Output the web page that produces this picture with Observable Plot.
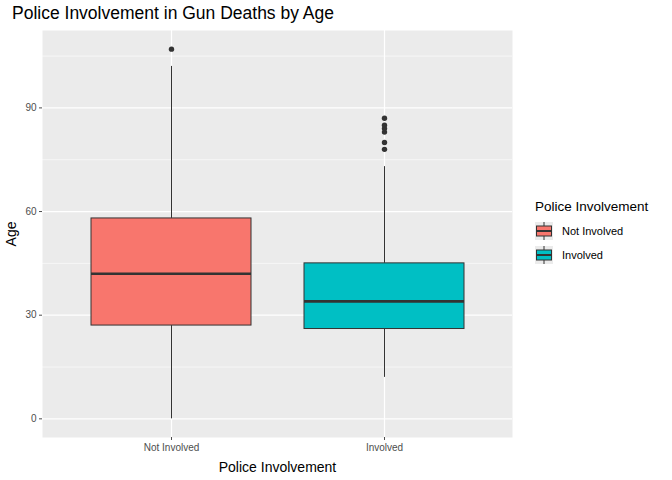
<!DOCTYPE html>
<html><head><meta charset="utf-8">
<script src="https://cdn.jsdelivr.net/npm/d3@7"></script>
<script src="https://cdn.jsdelivr.net/npm/@observablehq/plot@0.6"></script>
<style>
body{margin:0;background:#fff;font-family:"Liberation Sans",Arial,sans-serif;}
#wrap{position:relative;width:672px;height:480px;}
#title{position:absolute;left:12px;top:3px;font-size:17.5px;color:#000;}
#chart{position:absolute;left:0;top:28px;}
#legend{position:absolute;left:535px;top:199px;font-size:13.5px;color:#000;}
.key{display:flex;align-items:center;height:24px;font-size:11px;}
.key svg{margin-right:9px;}
</style></head><body>
<div id="wrap">
<div id="title">Police Involvement in Gun Deaths by Age</div>
<div id="chart"></div>
<div id="legend"><div style="margin-bottom:5px">Police Involvement</div></div>
</div>
<script>
const groups = ["Not Involved", "Involved"]
const colors = ["#F8766D", "#00BFC4"]
const lows = [0, 12]
const q1s = [27, 26]
const medians = [42, 34]
const q3s = [58, 45]
const highs = [102, 73]
const outliers = [
  {group: "Not Involved", age: 107},
  ...[78, 80, 83, 84, 85, 87].map(a => ({group: "Involved", age: a}))
]
const majorTicks = [0, 30, 60, 90]
const minorTicks = [15, 45, 75, 105]

const boxes = groups.map((g, i) => ({group: g, color: colors[i], low: lows[i], q1: q1s[i], med: medians[i], q3: q3s[i], high: highs[i]}))

const chart = Plot.plot({
  width: 514, height: 452,
  marginLeft: 42, marginRight: 2, marginTop: 2, marginBottom: 43,
  style: {fontFamily: "Liberation Sans, Arial, sans-serif", background: "white"},
  x: {type: "band", domain: groups, paddingInner: 0.25, paddingOuter: 0.225, label: null},
  y: {domain: [-5.4, 112.4], label: null},
  color: {type: "identity"},
  marks: [
    Plot.frame({fill: "#ebebeb", stroke: null}),
    Plot.ruleY(minorTicks, {stroke: "white", strokeWidth: 0.6}),
    Plot.ruleY(majorTicks, {stroke: "white", strokeWidth: 1.2}),
    Plot.ruleX(groups, {x: d => d, stroke: "white", strokeWidth: 1.2}),
    Plot.ruleX(boxes, {x: "group", y1: "low", y2: "q1", stroke: "#333", strokeWidth: 1}),
    Plot.ruleX(boxes, {x: "group", y1: "q3", y2: "high", stroke: "#333", strokeWidth: 1}),
    Plot.barY(boxes, {x: "group", y1: "q1", y2: "q3", fill: "color", stroke: "#333", strokeWidth: 1}),
    Plot.tickY(boxes, {x: "group", y: "med", stroke: "#333", strokeWidth: 2.6}),
    Plot.dot(outliers, {x: "group", y: "age", r: 2.7, fill: "#333", stroke: null}),
    Plot.axisY({ticks: majorTicks, tickSize: 3, tickPadding: 3, fontSize: 10, color: "#4d4d4d", label: "Age", labelAnchor: "center", labelArrow: "none", labelOffset: 36}),
    Plot.axisX({tickSize: 3, tickPadding: 3, fontSize: 10, color: "#4d4d4d", label: "Police Involvement", labelAnchor: "center", labelArrow: "none", labelOffset: 34})
  ]
})
d3.select(chart).selectAll("g[aria-label='y-axis label'] text, g[aria-label='x-axis label'] text").style("font-size", "14px").style("fill", "#000")
d3.select("#chart").append(() => chart)

boxes.forEach(b => {
  const k = d3.select("#legend").append("div").attr("class", "key")
  const s = k.append("svg").attr("width", 18).attr("height", 18)
  s.append("rect").attr("width", 18).attr("height", 18).attr("fill", "#ebebeb")
  s.append("line").attr("x1", 9).attr("x2", 9).attr("y1", 0).attr("y2", 18).attr("stroke", "#333")
  s.append("rect").attr("x", 1.5).attr("y", 4).attr("width", 15).attr("height", 10).attr("fill", b.color).attr("stroke", "#333")
  s.append("line").attr("x1", 1.5).attr("x2", 16.5).attr("y1", 9).attr("y2", 9).attr("stroke", "#333").attr("stroke-width", 2)
  k.append("span").text(b.group)
})
</script>
</body></html>
